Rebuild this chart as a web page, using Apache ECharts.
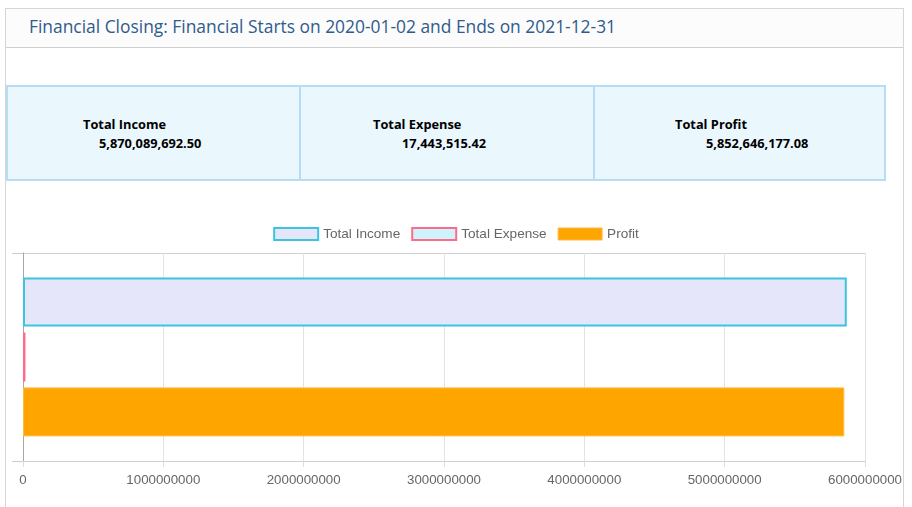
<!DOCTYPE html>
<html>
<head>
<meta charset="utf-8">
<script src="https://cdn.jsdelivr.net/npm/echarts@6/dist/echarts.min.js"></script>
<style>
  html, body { margin: 0; padding: 0; width: 912px; height: 507px; overflow: hidden; background: #fff; font-family: "Open Sans", "Noto Sans", sans-serif; }
  #card { position: absolute; left: 5px; top: 8px; width: 899px; height: 520px; border: 1px solid #d6d6d6; box-sizing: border-box; }
  #header { position: absolute; left: 0; top: 0; width: 100%; height: 39px; background: #fcfcfc; border-bottom: 1px solid #cfcfcf; box-sizing: border-box; }
  #title { position: absolute; left: 23px; top: 5px; font-size: 17.4px; color: #2f5b8c; white-space: nowrap; }
  .box { position: absolute; top: 85px; height: 96px; background: #eaf7fd; border: 2px solid #b6dcf6; box-sizing: border-box; }
  .lbl, .val { position: absolute; font-weight: bold; font-size: 12.8px; color: #000; white-space: nowrap; }
  #chart { position: absolute; left: 0; top: 0; width: 912px; height: 507px; }
</style>
</head>
<body>
<div id="card"><div id="header"><div id="title"></div></div></div>
<div class="box" style="left:6px;width:295px;"></div>
<div class="box" style="left:299px;width:296px;"></div>
<div class="box" style="left:593px;width:293px;"></div>
<div class="lbl" id="l0" style="left:83px;top:115px;"></div>
<div class="val" id="v0" style="left:99px;top:134px;"></div>
<div class="lbl" id="l1" style="left:373px;top:115px;"></div>
<div class="val" id="v1" style="left:402px;top:134px;"></div>
<div class="lbl" id="l2" style="left:675px;top:115px;"></div>
<div class="val" id="v2" style="left:706px;top:134px;"></div>
<div id="chart"></div>
<script>
// ---- data ----
const startDate = '2020-01-02';
const endDate = '2021-12-31';
const categories = ['Financial Closing'];
const seriesNames = ['Total Income', 'Total Expense', 'Profit'];
const summaryLabels = ['Total Income', 'Total Expense', 'Total Profit'];
const incomeValues = [5870089692.50];
const expenseValues = [17443515.42];
const profitValues = [5852646177.08];
const xTicks = [0, 1000000000, 2000000000, 3000000000, 4000000000, 5000000000, 6000000000];

// ---- header & summary ----
document.getElementById('title').textContent =
  'Financial Closing: Financial Starts on ' + startDate + ' and Ends on ' + endDate;
const fmt = v => v.toLocaleString('en-US', { minimumFractionDigits: 2, maximumFractionDigits: 2 });
const totals = [incomeValues[0], expenseValues[0], profitValues[0]];
for (let i = 0; i < 3; i++) {
  document.getElementById('l' + i).textContent = summaryLabels[i];
  document.getElementById('v' + i).textContent = fmt(totals[i]);
}

// ---- chart ----
const styles = [
  { color: '#e6e6fa', borderColor: '#3ac4e2', borderWidth: 2 },
  { color: '#cdf4fd', borderColor: '#ff6a88', borderWidth: 2 },
  { color: '#ffa500', borderColor: '#ffbb44', borderWidth: 1 }
];
const dataSets = [incomeValues, expenseValues, profitValues];
const chart = echarts.init(document.getElementById('chart'), null, { renderer: 'canvas' });
chart.setOption({
  animation: false,
  textStyle: { fontFamily: 'Liberation Sans, Arial, sans-serif' },
  legend: {
    top: 222,
    left: 'center',
    icon: 'rect',
    itemWidth: 44,
    itemHeight: 12,
    itemGap: 11,
    textStyle: { color: '#666', fontSize: 13.6 },
    data: seriesNames.map((n, i) => ({ name: n, itemStyle: styles[i] }))
  },
  grid: { left: 23, right: 47, top: 253, bottom: 46, containLabel: false },
  xAxis: {
    type: 'value',
    min: xTicks[0],
    max: xTicks[xTicks.length - 1],
    interval: xTicks[1] - xTicks[0],
    axisLine: { show: true, lineStyle: { color: '#cfcfcf' } },
    axisTick: { show: true, length: 6, lineStyle: { color: '#dcdcdc' } },
    splitLine: { show: true, lineStyle: { color: '#e3e3e3' } },
    axisLabel: { color: '#666', fontSize: 13.3, margin: 13, formatter: v => String(v) }
  },
  yAxis: {
    type: 'category',
    inverse: true,
    data: categories,
    axisLine: { show: true, onZero: false, lineStyle: { color: '#a8a8a8' } },
    axisTick: { show: true, inside: false, interval: 0, length: 11, lineStyle: { color: '#cccccc', width: 1 } },
    splitLine: { show: true, interval: 0, lineStyle: { color: '#cfcfcf' } },
    axisLabel: { show: true, color: 'rgba(0,0,0,0)', fontSize: 1 }
  },
  series: seriesNames.map((n, i) => ({
    name: n,
    type: 'bar',
    data: dataSets[i],
    barWidth: 49,
    barGap: '12%',
    itemStyle: styles[i]
  }))
});
</script>
</body>
</html>
